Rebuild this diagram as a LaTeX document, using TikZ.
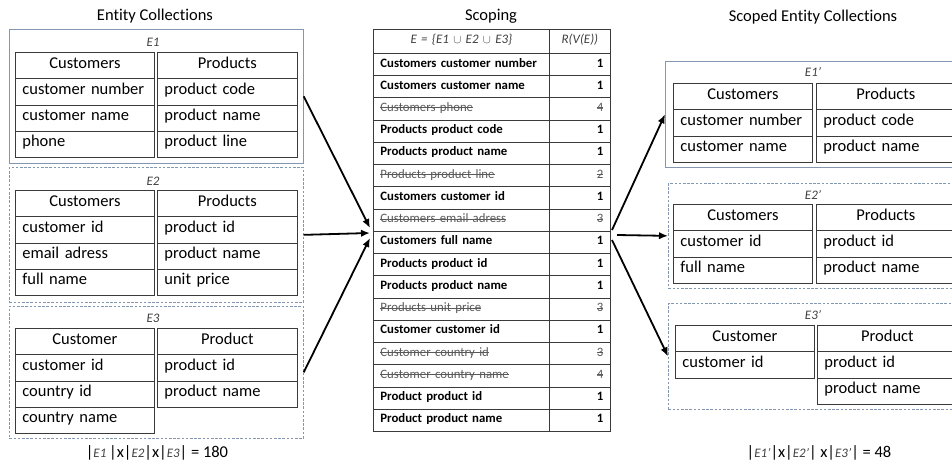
\documentclass[tikz,border=0pt]{standalone}
\usepackage{fontspec}
\setmainfont{Carlito}[Ligatures=CommonOff]
\usetikzlibrary{arrows.meta}
\definecolor{tline}{HTML}{3A3A3A}
\definecolor{pline}{HTML}{8497B0}
\definecolor{strk}{HTML}{595959}
\definecolor{labc}{HTML}{404040}
\newlength\strklen
\newcommand\strk[1]{\settowidth\strklen{#1}\rlap{#1}\rule[0.27em]{\strklen}{0.55pt}}
\newcommand\fsz{\fontsize{16.5}{18}\selectfont}
\newcommand\fmz{\fontsize{12.8}{15}\selectfont}
\newcommand\flab{\fontsize{13}{15}\selectfont\itshape\color{labc}}
\newcommand\rb[1]{\bfseries #1}
\newcommand\rs[1]{\color{strk}\strk{#1}}
\newcommand\hc[5]{\node[cell,align=center,text width=#4] (#1) at (#2,#3) {#5};}
\newcommand\dc[5]{\node[cell,align=left,text width=#4] (#1) at (#2,#3) {#5};}
\tikzset{
  cell/.style={draw=tline, line width=0.8pt, inner xsep=7pt, inner ysep=0pt,
    anchor=north west, font=\fsz, minimum height=26.25pt, text height=0.72em, text depth=0.22em},
  mcell/.style={draw=tline, line width=0.8pt, inner xsep=7pt, inner ysep=0pt,
    anchor=north west, font=\fmz, minimum height=22.235pt, text height=0.72em, text depth=0.22em},
  panel/.style={draw=pline, line width=0.7pt, anchor=north west, inner sep=0pt},
  dpanel/.style={panel, dash pattern=on 2.6pt off 1.6pt},
  lab/.style={font=\flab, inner sep=0pt},
  ttl/.style={font=\fsz, inner sep=0pt},
  arr/.style={line width=1.8pt, -{Latex[length=9pt,width=7.5pt]}}
}
\begin{document}
\begin{tikzpicture}[x=1pt,y=-1pt]
\useasboundingbox (0,0) rectangle (952,466);
\clip (0,0) rectangle (952,466);
% titles
\node[ttl] (t1) at (155,16) {Entity Collections};
\node[ttl] (t2) at (491,16) {Scoping};
\node[ttl] (t3) at (813,17) {Scoped Entity Collections};
% ---------- left panels
\node[panel, minimum width=294pt, minimum height=134pt] (E1) at (9,29) {};
\node[lab] (E1l) at (153,42) {E1};
\hc{a1}{15}{52}{125pt}{Customers}
\dc{a2}{15}{78.25}{125pt}{customer number}
\dc{a3}{15}{104.5}{125pt}{customer name}
\dc{a4}{15}{130.75}{125pt}{phone}
\hc{b1}{157}{52}{126pt}{Products}
\dc{b2}{157}{78.25}{126pt}{product code}
\dc{b3}{157}{104.5}{126pt}{product name}
\dc{b4}{157}{130.75}{126pt}{product line}

\node[dpanel, minimum width=294pt, minimum height=135pt] (E2) at (9,167) {};
\node[lab] (E2l) at (153,181) {E2};
\hc{c1}{15}{190}{125pt}{Customers}
\dc{c2}{15}{216.25}{125pt}{customer id}
\dc{c3}{15}{242.5}{125pt}{email adress}
\dc{c4}{15}{268.75}{125pt}{full name}
\hc{d1}{157}{190}{126pt}{Products}
\dc{d2}{157}{216.25}{126pt}{product id}
\dc{d3}{157}{242.5}{126pt}{product name}
\dc{d4}{157}{268.75}{126pt}{unit price}

\node[dpanel, minimum width=294pt, minimum height=132pt] (E3) at (9,306) {};
\node[lab] (E3l) at (153,318) {E3};
\hc{e1}{15}{328}{125pt}{Customer}
\dc{e2}{15}{354.25}{125pt}{customer id}
\dc{e3}{15}{380.5}{125pt}{country id}
\dc{e4}{15}{406.75}{125pt}{country name}
\hc{f1}{157}{328}{126pt}{Product}
\dc{f2}{157}{354.25}{126pt}{product id}
\dc{f3}{157}{380.5}{126pt}{product name}

\node[ttl] (fl) at (157,453) {|{\flab E1}\,|x|{\flab E2}|x|{\flab E3}| = 180};

% ---------- middle table
\node[mcell, minimum height=24pt, text width=162pt, align=center, font=\flab] (h1) at (373,29) {E = \{E1 $\cup$ E2 $\cup$ E3\}};
\node[mcell, minimum height=24pt, text width=47pt, align=center, font=\flab] (h2) at (549,29) {R(V(E))};
\foreach \t/\v/\s [count=\i] in {
  Customers customer number/1/\rb,
  Customers customer name/1/\rb,
  Customers phone/4/\rs,
  Products product code/1/\rb,
  Products product name/1/\rb,
  Products product line/2/\rs,
  Customers customer id/1/\rb,
  Customers email adress/3/\rs,
  Customers full name/1/\rb,
  Products product id/1/\rb,
  Products product name/1/\rb,
  Products unit price/3/\rs,
  Customer customer id/1/\rb,
  Customer country id/3/\rs,
  Customer country name/4/\rs,
  Product product id/1/\rb,
  Product product name/1/\rb}{
  \pgfmathsetmacro\yy{53+(\i-1)*22.235}
  \node[mcell, text width=162pt, align=left] (m\i a) at (373,\yy) {\s{\t}};
  \node[mcell, text width=47pt, align=right] (m\i b) at (549,\yy) {\s{\v}};
}
\coordinate (in1) at (370,228);
\coordinate (in2) at (370,233);
\coordinate (in3) at (370,238);
\coordinate (out1) at (612,230);
\coordinate (out2) at (617,235);
\coordinate (out3) at (612,240);

% ---------- right panels
\node[panel, minimum width=293pt, minimum height=106pt] (R1) at (665,61) {};
\node[lab] (R1l) at (813,72) {E1'};
\hc{g1}{673}{83}{125pt}{Customers}
\dc{g2}{673}{109.3}{125pt}{customer number}
\dc{g3}{673}{135.6}{125pt}{customer name}
\hc{h1}{816}{83}{125pt}{Products}
\dc{h2}{816}{109.3}{125pt}{product code}
\dc{h3}{816}{135.6}{125pt}{product name}

\node[dpanel, minimum width=290pt, minimum height=105pt] (R2) at (668,183) {};
\node[lab] (R2l) at (813,195) {E2'};
\hc{i1}{673}{204}{125pt}{Customers}
\dc{i2}{673}{230.3}{125pt}{customer id}
\dc{i3}{673}{256.6}{125pt}{full name}
\hc{j1}{816}{204}{125pt}{Products}
\dc{j2}{816}{230.3}{125pt}{product id}
\dc{j3}{816}{256.6}{125pt}{product name}

\node[dpanel, minimum width=290pt, minimum height=106pt] (R3) at (668,303) {};
\node[lab] (R3l) at (813,315) {E3'};
\hc{k1}{675}{325}{125pt}{Customer}
\dc{k2}{675}{351.3}{125pt}{customer id}
\hc{l1}{817}{325}{126pt}{Product}
\dc{l2}{817}{351.3}{126pt}{product id}
\dc{l3}{817}{377.6}{126pt}{product name}

\node[ttl] (fr) at (819,453) {|{\flab E1'}|x|{\flab E2'}| x|{\flab E3'}| = 48};

% ---------- arrows
\draw[arr] (E1.east) -- (in1);
\draw[arr] (E2.east) -- (in2);
\draw[arr] (E3.east) -- (in3);
\draw[arr] (out1) -- (R1.west);
\draw[arr] (out2) -- (R2.west);
\draw[arr] (out3) -- (R3.west);
\end{tikzpicture}
\end{document}
